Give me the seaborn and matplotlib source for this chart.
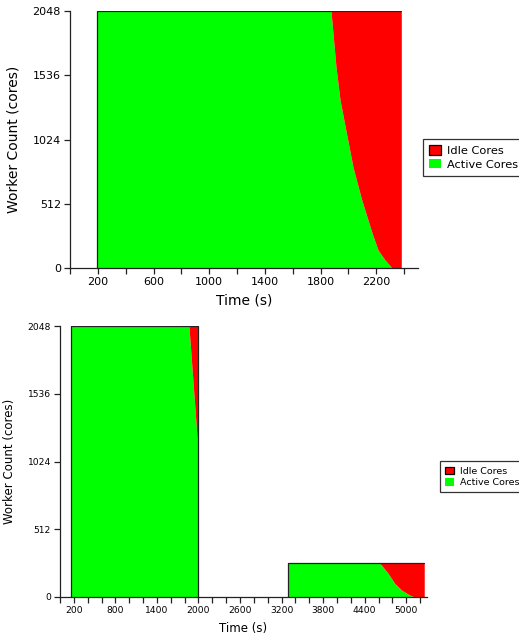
import matplotlib
matplotlib.use("Agg")
import matplotlib.pyplot as plt
import seaborn as sns
import numpy as np
from matplotlib.patches import Patch

# top run: one job on 2048 cores
top_time = [195, 1875, 1911, 1940, 2033, 2096, 2170, 2213, 2263, 2313, 2380]
top_active = [2048, 2048, 1602, 1339, 805, 542, 279, 143, 64, 0, 0]
top_total = [2048] * len(top_time)

# bottom run: two blocks, 2048 cores then 256 cores
blk1_time = [165, 1862, 2000]
blk1_active = [2048, 2048, 1060]
blk1_total = [2048, 2048, 2048]

blk2_time = [3290, 4618, 4738, 4834, 4931, 5050, 5123, 5260]
blk2_active = [256, 256, 179, 103, 53, 15, 0, 0]
blk2_total = [256] * len(blk2_time)

y_ticks = [0, 512, 1024, 1536, 2048]
GREEN = "#00ff00"
RED = "#ff0000"

sns.set_style("ticks")
plt.rcParams["font.family"] = ["DejaVu Sans"]
plt.rcParams["text.color"] = "black"
plt.rcParams["axes.labelcolor"] = "black"
plt.rcParams["xtick.color"] = "black"
plt.rcParams["ytick.color"] = "black"

fig = plt.figure(figsize=(5.19, 6.35), dpi=100)
ax1 = fig.add_axes([70 / 519, 1 - 268 / 635, 348 / 519, 257 / 635])
ax2 = fig.add_axes([60 / 519, 1 - 597 / 635, 367 / 519, 271 / 635])


def draw_block(ax, t, active, total, close_right=False):
    t = np.array(t, dtype=float)
    a = np.array(active, dtype=float)
    tot = np.array(total, dtype=float)
    ax.fill_between(t, 0, a, color=GREEN, lw=0)
    ax.fill_between(t, a, tot, color=RED, lw=0)
    ox = np.concatenate([[t[0]], t])
    oy = np.concatenate([[0], tot])
    if close_right:
        ox = np.append(ox, t[-1])
        oy = np.append(oy, 0)
    sns.lineplot(x=ox, y=oy, ax=ax, sort=False, estimator=None,
                 color="#222222", lw=0.9)


def style_axes(ax, xmax, xstep_label, fs_tick, fs_label, fs_leg, leg_anchor,
               ylabelpad):
    ax.set_xlim(0, xmax)
    ax.set_ylim(0, 2048)
    ax.set_yticks(y_ticks)
    ax.set_yticklabels([str(v) for v in y_ticks], fontsize=fs_tick)
    ticks = np.arange(0, xmax + 1, 200)
    ax.set_xticks(ticks)
    labels = [str(int(v)) if (v - 200) % xstep_label == 0 and v >= 200 else ""
              for v in ticks]
    ax.set_xticklabels(labels, fontsize=fs_tick)
    ax.tick_params(length=4.5, width=0.9, color="#222222", pad=2)
    for s in ["top", "right"]:
        ax.spines[s].set_visible(False)
    for s in ["left", "bottom"]:
        ax.spines[s].set_color("#222222")
        ax.spines[s].set_linewidth(0.9)
    ax.set_xlabel("Time (s)", fontsize=fs_label, labelpad=5)
    ax.set_ylabel("Worker Count (cores)", fontsize=fs_label, labelpad=ylabelpad)
    handles = [Patch(facecolor=RED, edgecolor="black", lw=0.9, label="Idle Cores"),
               Patch(facecolor=GREEN, edgecolor="none", label="Active Cores")]
    leg = ax.legend(handles=handles, loc="center left", bbox_to_anchor=leg_anchor,
                    fontsize=fs_leg, frameon=True, fancybox=False,
                    handlelength=1.0, handleheight=0.9, handletextpad=0.55,
                    labelspacing=0.25, borderpad=0.55, borderaxespad=0)
    leg.get_frame().set_edgecolor("black")
    leg.get_frame().set_linewidth(0.9)


draw_block(ax1, top_time, top_active, top_total)
style_axes(ax1, 2500, 400, 8, 10, 8.2, (1.014, 0.43), 9)

draw_block(ax2, blk1_time, blk1_active, blk1_total, close_right=True)
draw_block(ax2, blk2_time, blk2_active, blk2_total)
style_axes(ax2, 5300, 600, 6.6, 8.5, 6.8, (1.035, 0.443), 8)

fig.savefig("out.png", dpi=100)
